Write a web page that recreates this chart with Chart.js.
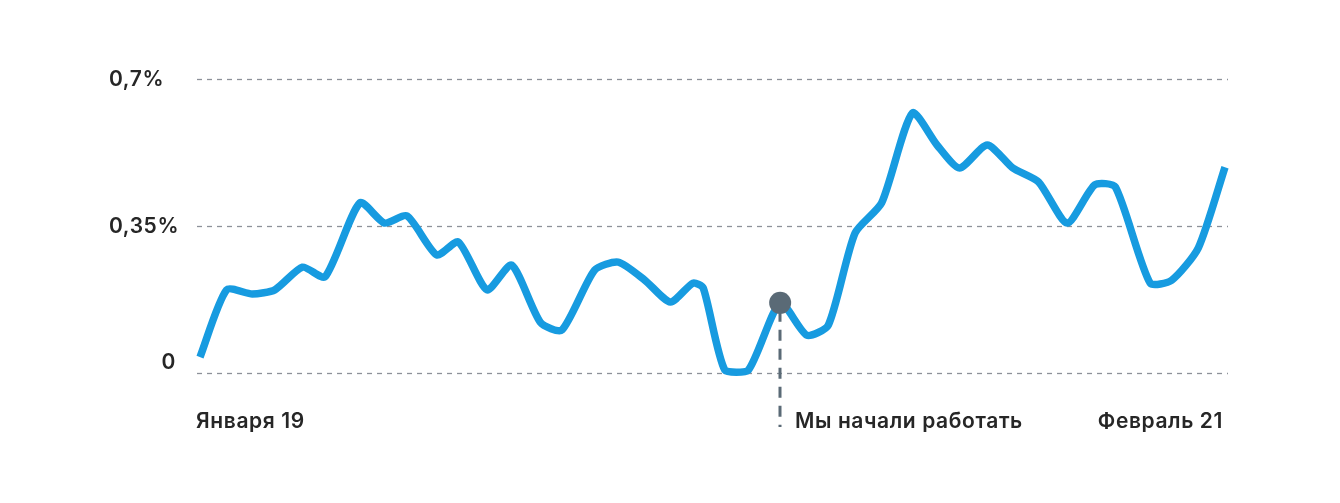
<!DOCTYPE html>
<html>
<head>
<meta charset="utf-8">
<script src="https://cdn.jsdelivr.net/npm/chart.js@4/dist/chart.umd.min.js"></script>
<style>
  html, body { margin: 0; padding: 0; background: #fff; }
  #wrap { width: 1340px; height: 503px; position: relative; }
</style>
</head>
<body>
<div id="wrap"><canvas id="chart"></canvas></div>
<script>
// x positions across the period (0 = start, 100 = end)
const xPos = [0, 2.6, 5.1, 7.3, 10.0, 12.2, 15.6, 18.0, 20.2, 23.1, 25.2, 28.0, 30.4, 33.2, 35.3,
  38.5, 40.8, 43.4, 45.9, 48.1, 49.1, 51.2, 53.5, 56.6, 59.2, 61.3, 63.9, 66.5, 69.5, 71.9,
  74.1, 76.8, 79.3, 81.8, 84.6, 87.3, 89.3, 92.7, 94.8, 97.4, 100];
// share, %
const shareValues = [0.038, 0.198, 0.188, 0.198, 0.252, 0.229, 0.405, 0.357, 0.374, 0.281, 0.312,
  0.198, 0.257, 0.121, 0.102, 0.245, 0.264, 0.221, 0.169, 0.214, 0.202, 0.007, 0.007, 0.167,
  0.090, 0.114, 0.333, 0.405, 0.619, 0.543, 0.488, 0.543, 0.488, 0.455, 0.357, 0.448, 0.443,
  0.214, 0.221, 0.298, 0.490];

const yTicks = [0.7, 0.35, 0];
const yTickLabels = ['0,7%', '0,35%', '0'];
const xTickLabels = ['Января 19', 'Февраль 21'];

// the moment "we started working"
const eventX = [56.6];
const eventY = [0.167];
const eventLabel = 'Мы начали работать';

const FONT = '600 21px Inter, "Noto Sans", sans-serif';
const TEXT = '#262626';

const decorPlugin = {
  id: 'decor',
  beforeDatasetsDraw(chart) {
    const { ctx, chartArea, scales } = chart;
    const y = scales.y;
    ctx.save();
    ctx.strokeStyle = '#8d9199';
    ctx.lineWidth = 1.3;
    ctx.setLineDash([5, 5]);
    yTicks.forEach(v => {
      const py = Math.round(y.getPixelForValue(v)) + 0.5;
      ctx.beginPath();
      ctx.moveTo(chartArea.left - 3, py);
      ctx.lineTo(chartArea.right + 3, py);
      ctx.stroke();
    });
    ctx.setLineDash([]);

    // y labels
    ctx.fillStyle = TEXT;
    ctx.font = FONT;
    ctx.letterSpacing = '0.6px';
    ctx.textBaseline = 'middle';
    yTicks.forEach((v, i) => {
      const py = y.getPixelForValue(v);
      if (v === 0) {
        ctx.textAlign = 'right';
        ctx.fillText(yTickLabels[i], chartArea.left - 24, py - 10);
      } else {
        ctx.textAlign = 'left';
        ctx.fillText(yTickLabels[i], chartArea.left - 91, py + 1);
      }
    });

    // event dashed line
    const x = scales.x;
    const ex = Math.round(x.getPixelForValue(eventX[0]));
    const ey = y.getPixelForValue(eventY[0]);
    ctx.strokeStyle = '#5a6a76';
    ctx.lineWidth = 3;
    ctx.setLineDash([11, 8]);
    ctx.beginPath();
    ctx.moveTo(ex, ey + 8);
    ctx.lineTo(ex, chartArea.bottom + 54);
    ctx.stroke();
    ctx.setLineDash([]);

    // x labels
    ctx.textBaseline = 'alphabetic';
    const base = chartArea.bottom + 55;
    ctx.textAlign = 'left';
    ctx.fillText(xTickLabels[0], chartArea.left - 4, base);
    ctx.textAlign = 'right';
    ctx.fillText(xTickLabels[1], chartArea.right - 2, base);
    ctx.textAlign = 'left';
    ctx.fillText(eventLabel, ex + 15, base);
    ctx.restore();
  }
};

new Chart(document.getElementById('chart'), {
  type: 'line',
  data: {
    datasets: [{
      data: xPos.map((v, i) => ({ x: v, y: shareValues[i] })),
      borderColor: '#179be0',
      borderWidth: 7.5,
      tension: 0.22,
      pointRadius: 0,
      borderCapStyle: 'butt',
      borderJoinStyle: 'round',
      clip: false,
      order: 2
    }, {
      data: eventX.map((v, i) => ({ x: v, y: eventY[i] })),
      showLine: false,
      pointRadius: 11,
      pointBackgroundColor: '#5a6a76',
      pointBorderWidth: 0,
      clip: false,
      order: 1
    }]
  },
  options: {
    responsive: true,
    maintainAspectRatio: false,
    animation: false,
    events: [],
    layout: { padding: { left: 200, right: 115, top: 79, bottom: 130 } },
    scales: {
      x: { type: 'linear', min: 0, max: 100, display: false },
      y: { min: 0, max: 0.7, display: false }
    },
    plugins: { legend: { display: false }, tooltip: { enabled: false } }
  },
  plugins: [decorPlugin]
});
</script>
</body>
</html>
